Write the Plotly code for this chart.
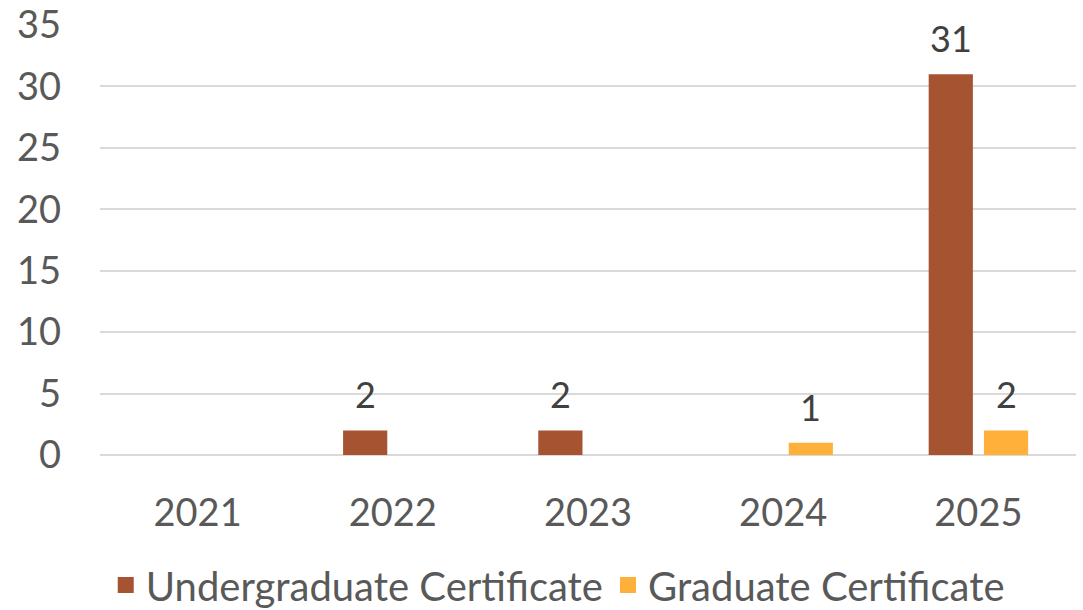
import plotly.graph_objects as go

years = ["2021", "2022", "2023", "2024", "2025"]
undergrad = [0, 2, 2, 0, 31]
graduate = [0, 0, 0, 1, 2]
series_names = ["Undergraduate Certificate", "Graduate Certificate"]
colors = ["#A65332", "#FFB03B"]
y_ticks = [0, 5, 10, 15, 20, 25, 30, 35]

FONT = "Lato"
BARGAP = 0.434
PLOT_W = 1083 - 100 - 7
fig = go.Figure()
for name, vals, col in zip(series_names, [undergrad, graduate], colors):
    fig.add_trace(go.Bar(x=years, y=vals, name=name, marker_color=col,
                         marker_line_width=0, showlegend=False))
# legend swatches
for name, col in zip(series_names, colors):
    fig.add_trace(go.Scatter(x=[years[0]], y=[None], mode="markers", name=name,
                             marker=dict(symbol="square", size=22, color=col)))

# data labels for nonzero values
slot = PLOT_W / len(years) * (1 - BARGAP) / 2
for i, vals in enumerate([undergrad, graduate]):
    shift = -slot / 2 if i == 0 else slot / 2
    for idx, v in enumerate(vals):
        if v:
            fig.add_annotation(x=idx, y=v, text=str(v), showarrow=False,
                               xshift=shift, yshift=12, yanchor="bottom",
                               font=dict(family=FONT, size=36, color="#404040"))

fig.update_layout(
    width=1083, height=610,
    margin=dict(l=100, r=7, t=25, b=155),
    paper_bgcolor="white", plot_bgcolor="white",
    barmode="group", bargap=BARGAP, bargroupgap=0.2,
    font=dict(family=FONT, size=38, color="#595959"),
    showlegend=True,
    legend=dict(orientation="h", xref="paper", yref="container",
                x=0.469, xanchor="center", y=0.041, yanchor="middle",
                font=dict(family=FONT, size=40, color="#595959"),
                itemsizing="trace", tracegroupgap=0),
)
fig.update_xaxes(type="category", range=[-0.5, len(years) - 0.5], showgrid=False,
                 showline=False, ticks="", ticklabelstandoff=32, automargin=False,
                 tickfont=dict(family=FONT, size=38, color="#595959"))
fig.update_yaxes(range=[0, 35], tickvals=y_ticks, showgrid=True, gridcolor="#D9D9D9",
                 gridwidth=1.5, zeroline=True, zerolinecolor="#D9D9D9", zerolinewidth=1.5,
                 showline=False, ticks="", ticklabelstandoff=38, automargin=False,
                 tickfont=dict(family=FONT, size=38, color="#595959"))
fig.write_html("out.html", config={"displayModeBar": False},
               post_script="document.body.style.margin='0';document.body.style.overflow='hidden';")
